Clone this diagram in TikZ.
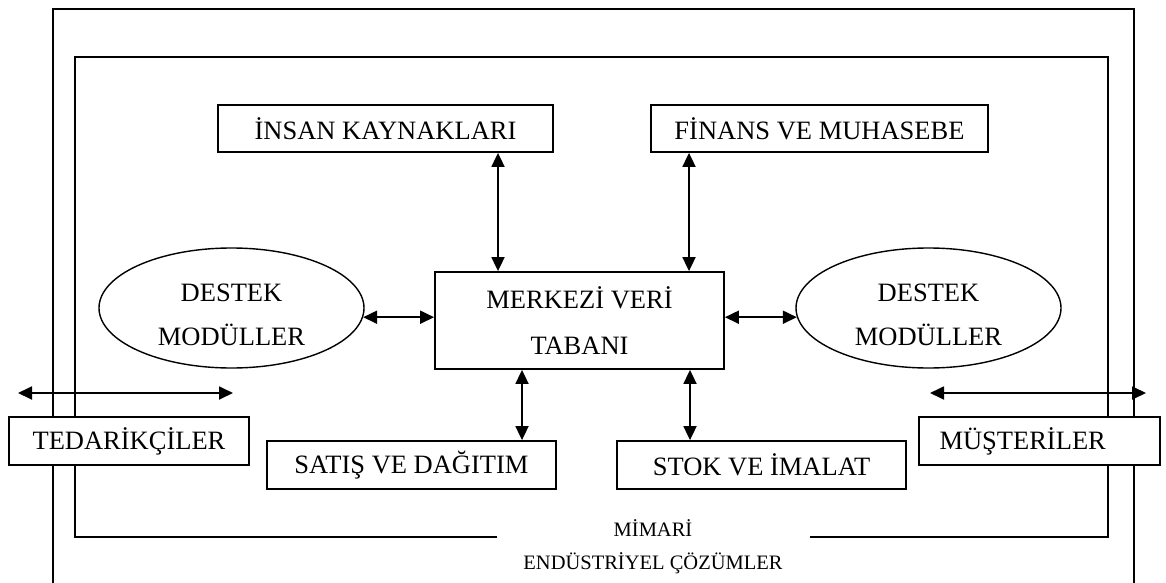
\documentclass[tikz,border=0pt]{standalone}
\usepackage{fontspec}
\setmainfont{Liberation Serif}
\usetikzlibrary{arrows.meta,shapes.geometric}
\begin{document}
\begin{tikzpicture}[x=1pt,y=-1pt,
  frame/.style={line width=1.8pt},
  module/.style={draw,line width=1.8pt,fill=white,rectangle,inner sep=0pt,
    font=\fontsize{26.5}{30}\selectfont},
  supbox/.style={draw,line width=1.4pt,ellipse,inner sep=0pt,
    minimum width=265pt,minimum height=120pt},
  suptext/.style={align=center,font=\fontsize{26.5}{44}\selectfont},
  arr/.style={line width=1.8pt,
    {Triangle[length=14pt,width=13pt]}-{Triangle[length=14pt,width=13pt]}},
  caption/.style={font=\fontsize{20.5}{24}\selectfont}]
\useasboundingbox (0,0) rectangle (1166,583);

% outer frame (open at the bottom)
\draw[frame] (53,600) -- (53,9) -- (1134,9) -- (1134,600);
% inner frame, broken at the bottom for its caption
\draw[frame] (497,537) -- (75,537) -- (75,57) -- (1108,57) -- (1108,537) -- (810,537);

% outer arrows crossing the frames
\coordinate (tl) at (18,393);
\coordinate (tr) at (233,393);
\coordinate (ml) at (930,393);
\coordinate (mr) at (1146,393);
\draw[arr] (tl) -- (tr);
\draw[arr] (ml) -- (mr);

% modules
\node[module,minimum width=335pt,minimum height=47pt] (hr) at (385.5,128.5) {İNSAN KAYNAKLARI};
\node[module,minimum width=337pt,minimum height=47pt] (fin) at (819.5,128.5) {FİNANS VE MUHASEBE};
\node[module,minimum width=289pt,minimum height=97pt,align=center,
  font=\fontsize{26.5}{46}\selectfont] (db) at (579.5,320.5) {MERKEZİ VERİ\\TABANI};
\node[module,minimum width=289pt,minimum height=48pt] (sat) at (411.5,465) {SATIŞ VE DAĞITIM};
\node[module,minimum width=289pt,minimum height=48pt] (stok) at (761.5,465) {STOK VE İMALAT};
\node[module,minimum width=240pt,minimum height=48pt] (ted) at (129,441) {TEDARİKÇİLER};
\node[module,minimum height=48pt,text width=200pt,inner xsep=20.5pt,align=left] (mus) at (1039.5,441) {MÜŞTERİLER};

% support modules
\node[supbox] (supL) at (231.5,308) {};
\node[suptext] (supLt) at (231.5,315) {DESTEK\\MODÜLLER};
\node[supbox] (supR) at (928.5,308) {};
\node[suptext] (supRt) at (928.5,315) {DESTEK\\MODÜLLER};

% connectors to the central database
\coordinate (ax1) at (498,0);
\coordinate (ax2) at (689,0);
\coordinate (ax3) at (522,0);
\coordinate (ax4) at (690,0);
\draw[arr] (hr.south -| ax1) -- (db.north -| ax1);
\draw[arr] (fin.south -| ax2) -- (db.north -| ax2);
\draw[arr] (db.south -| ax3) -- (sat.north -| ax3);
\draw[arr] (db.south -| ax4) -- (stok.north -| ax4);
\draw[arr] (supL.-4.4) -- (supL.-4.4 -| db.west);
\draw[arr] (db.east |- supR.184.8) -- (supR.184.8);

% frame captions
\node[caption] (arch) at (653,528) {MİMARİ};
\node[caption] (ind) at (653,563) {ENDÜSTRİYEL ÇÖZÜMLER};
\end{tikzpicture}
\end{document}
